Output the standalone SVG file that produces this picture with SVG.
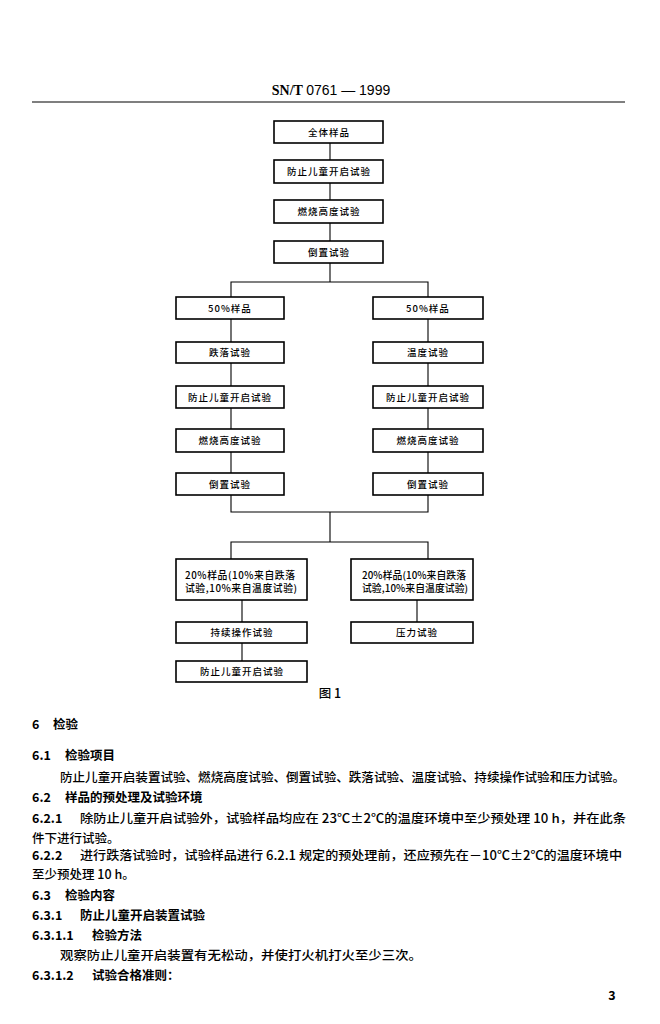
<svg xmlns="http://www.w3.org/2000/svg" width="660" height="1024" viewBox="0 0 660 1024">
<style>
.bx{fill:#fff;stroke:#000;stroke-width:1.6}
.ln{fill:none;stroke:#000;stroke-width:1.1}
.bt{font-family:"Noto Sans CJK SC","Liberation Sans",sans-serif;font-size:9.5px;fill:#000;text-anchor:middle;letter-spacing:1px;font-weight:500}
.bl{font-family:"Noto Sans CJK SC","Liberation Sans",sans-serif;font-size:9.8px;fill:#000;font-weight:500}
.tx{font-family:"Noto Sans CJK SC","Liberation Sans",sans-serif;font-size:12.5px;fill:#000;font-weight:500}
.hd{font-family:"Noto Sans CJK SC","Liberation Sans",sans-serif;font-size:12.5px;fill:#000;font-weight:bold}
</style>
<rect width="660" height="1024" fill="#fff"/>
<text x="331" y="95" text-anchor="middle" font-family="Liberation Serif,serif" font-size="14" font-weight="bold">SN/T  <tspan font-family="Liberation Sans Narrow,Liberation Sans,sans-serif" font-weight="normal">0761 — 1999</tspan></text>
<line x1="32" y1="102" x2="625" y2="102" stroke="#000" stroke-width="1.2"/>

<g id="connectors">
<line class="ln" x1="330" y1="143" x2="330" y2="160"/>
<line class="ln" x1="330" y1="183" x2="330" y2="200"/>
<line class="ln" x1="330" y1="223" x2="330" y2="241"/>
<line class="ln" x1="330" y1="263" x2="330" y2="282"/>
<polyline class="ln" points="231,297 231,282 428,282 428,297"/>
<line class="ln" x1="231" y1="319" x2="231" y2="342"/>
<line class="ln" x1="231" y1="363" x2="231" y2="386"/>
<line class="ln" x1="231" y1="408" x2="231" y2="429"/>
<line class="ln" x1="231" y1="452" x2="231" y2="473"/>
<line class="ln" x1="428" y1="319" x2="428" y2="342"/>
<line class="ln" x1="428" y1="363" x2="428" y2="386"/>
<line class="ln" x1="428" y1="408" x2="428" y2="429"/>
<line class="ln" x1="428" y1="452" x2="428" y2="473"/>
<polyline class="ln" points="231,495 231,512 428,512 428,495"/>
<line class="ln" x1="330" y1="512" x2="330" y2="542"/>
<polyline class="ln" points="231,559 231,542 428,542 428,559"/>
<line class="ln" x1="242" y1="600" x2="242" y2="622"/>
<line class="ln" x1="242" y1="643" x2="242" y2="661"/>
<line class="ln" x1="417" y1="600" x2="417" y2="622"/>
</g>

<g id="n1"><rect class="bx" x="274" y="121" width="109" height="22"/><text class="bt" x="329" y="136">全体样品</text></g>
<g id="n2"><rect class="bx" x="274" y="160" width="109" height="23"/><text class="bt" x="329" y="175">防止儿童开启试验</text></g>
<g id="n3"><rect class="bx" x="274" y="200" width="109" height="23"/><text class="bt" x="329" y="215">燃烧高度试验</text></g>
<g id="n4"><rect class="bx" x="274" y="241" width="109" height="22"/><text class="bt" x="329" y="256">倒置试验</text></g>

<g id="l1"><rect class="bx" x="176" y="297" width="108" height="22"/><text class="bt" x="230" y="312">50%样品</text></g>
<g id="l2"><rect class="bx" x="176" y="342" width="108" height="21"/><text class="bt" x="230" y="356">跌落试验</text></g>
<g id="l3"><rect class="bx" x="176" y="386" width="108" height="22"/><text class="bt" x="230" y="401">防止儿童开启试验</text></g>
<g id="l4"><rect class="bx" x="176" y="429" width="108" height="23"/><text class="bt" x="230" y="444">燃烧高度试验</text></g>
<g id="l5"><rect class="bx" x="176" y="473" width="108" height="22"/><text class="bt" x="230" y="488">倒置试验</text></g>

<g id="r1"><rect class="bx" x="373" y="297" width="110" height="22"/><text class="bt" x="428" y="312">50%样品</text></g>
<g id="r2"><rect class="bx" x="373" y="342" width="110" height="21"/><text class="bt" x="428" y="356">温度试验</text></g>
<g id="r3"><rect class="bx" x="373" y="386" width="110" height="22"/><text class="bt" x="428" y="401">防止儿童开启试验</text></g>
<g id="r4"><rect class="bx" x="373" y="429" width="110" height="23"/><text class="bt" x="428" y="444">燃烧高度试验</text></g>
<g id="r5"><rect class="bx" x="373" y="473" width="110" height="22"/><text class="bt" x="428" y="488">倒置试验</text></g>

<g id="m1"><rect class="bx" x="176" y="559" width="131" height="41"/><text class="bl" x="185" y="579" textLength="110" lengthAdjust="spacing">20%样品(10%来自跌落</text><text class="bl" x="185" y="592" textLength="112" lengthAdjust="spacing">试验,10%来自温度试验)</text></g>
<g id="m2"><rect class="bx" x="351" y="559" width="122" height="41"/><text class="bl" x="362" y="579" textLength="104" lengthAdjust="spacing">20%样品(10%来自跌落</text><text class="bl" x="362" y="592" textLength="106" lengthAdjust="spacing">试验,10%来自温度试验)</text></g>
<g id="m3"><rect class="bx" x="176" y="622" width="131" height="21"/><text class="bt" x="242" y="636">持续操作试验</text></g>
<g id="m4"><rect class="bx" x="351" y="622" width="122" height="21"/><text class="bt" x="417" y="636">压力试验</text></g>
<g id="m5"><rect class="bx" x="176" y="661" width="131" height="21"/><text class="bt" x="242" y="675">防止儿童开启试验</text></g>

<text x="330" y="698" text-anchor="middle" font-family="Noto Sans CJK SC,sans-serif" font-size="12.5" font-weight="500">图 1</text>

<text class="hd" x="32" y="729">6</text><text class="hd" x="53" y="729">检验</text>
<text class="hd" x="32" y="760">6.1</text><text class="hd" x="65" y="760">检验项目</text>
<text class="tx" x="60" y="782" textLength="565" lengthAdjust="spacingAndGlyphs">防止儿童开启装置试验、燃烧高度试验、倒置试验、跌落试验、温度试验、持续操作试验和压力试验。</text>
<text class="hd" x="32" y="802">6.2</text><text class="hd" x="65" y="802">样品的预处理及试验环境</text>
<text class="hd" x="32" y="823">6.2.1</text><text class="tx" x="80" y="823" textLength="546" lengthAdjust="spacingAndGlyphs">除防止儿童开启试验外，试验样品均应在 23℃±2℃的温度环境中至少预处理 10 h，并在此条</text>
<text class="tx" x="32" y="843">件下进行试验。</text>
<text class="hd" x="32" y="860">6.2.2</text><text class="tx" x="80" y="860" textLength="542" lengthAdjust="spacingAndGlyphs">进行跌落试验时，试验样品进行 6.2.1 规定的预处理前，还应预先在－10℃±2℃的温度环境中</text>
<text class="tx" x="32" y="879">至少预处理 10 h。</text>
<text class="hd" x="32" y="900">6.3</text><text class="hd" x="65" y="900">检验内容</text>
<text class="hd" x="32" y="920">6.3.1</text><text class="hd" x="80" y="920">防止儿童开启装置试验</text>
<text class="hd" x="32" y="940">6.3.1.1</text><text class="hd" x="92" y="940">检验方法</text>
<text class="tx" x="60" y="960" textLength="362" lengthAdjust="spacingAndGlyphs">观察防止儿童开启装置有无松动，并使打火机打火至少三次。</text>
<text class="hd" x="32" y="980">6.3.1.2</text><text class="hd" x="92" y="980">试验合格准则：</text>
<text class="hd" x="612" y="1000" text-anchor="middle" font-size="11">3</text>
</svg>
